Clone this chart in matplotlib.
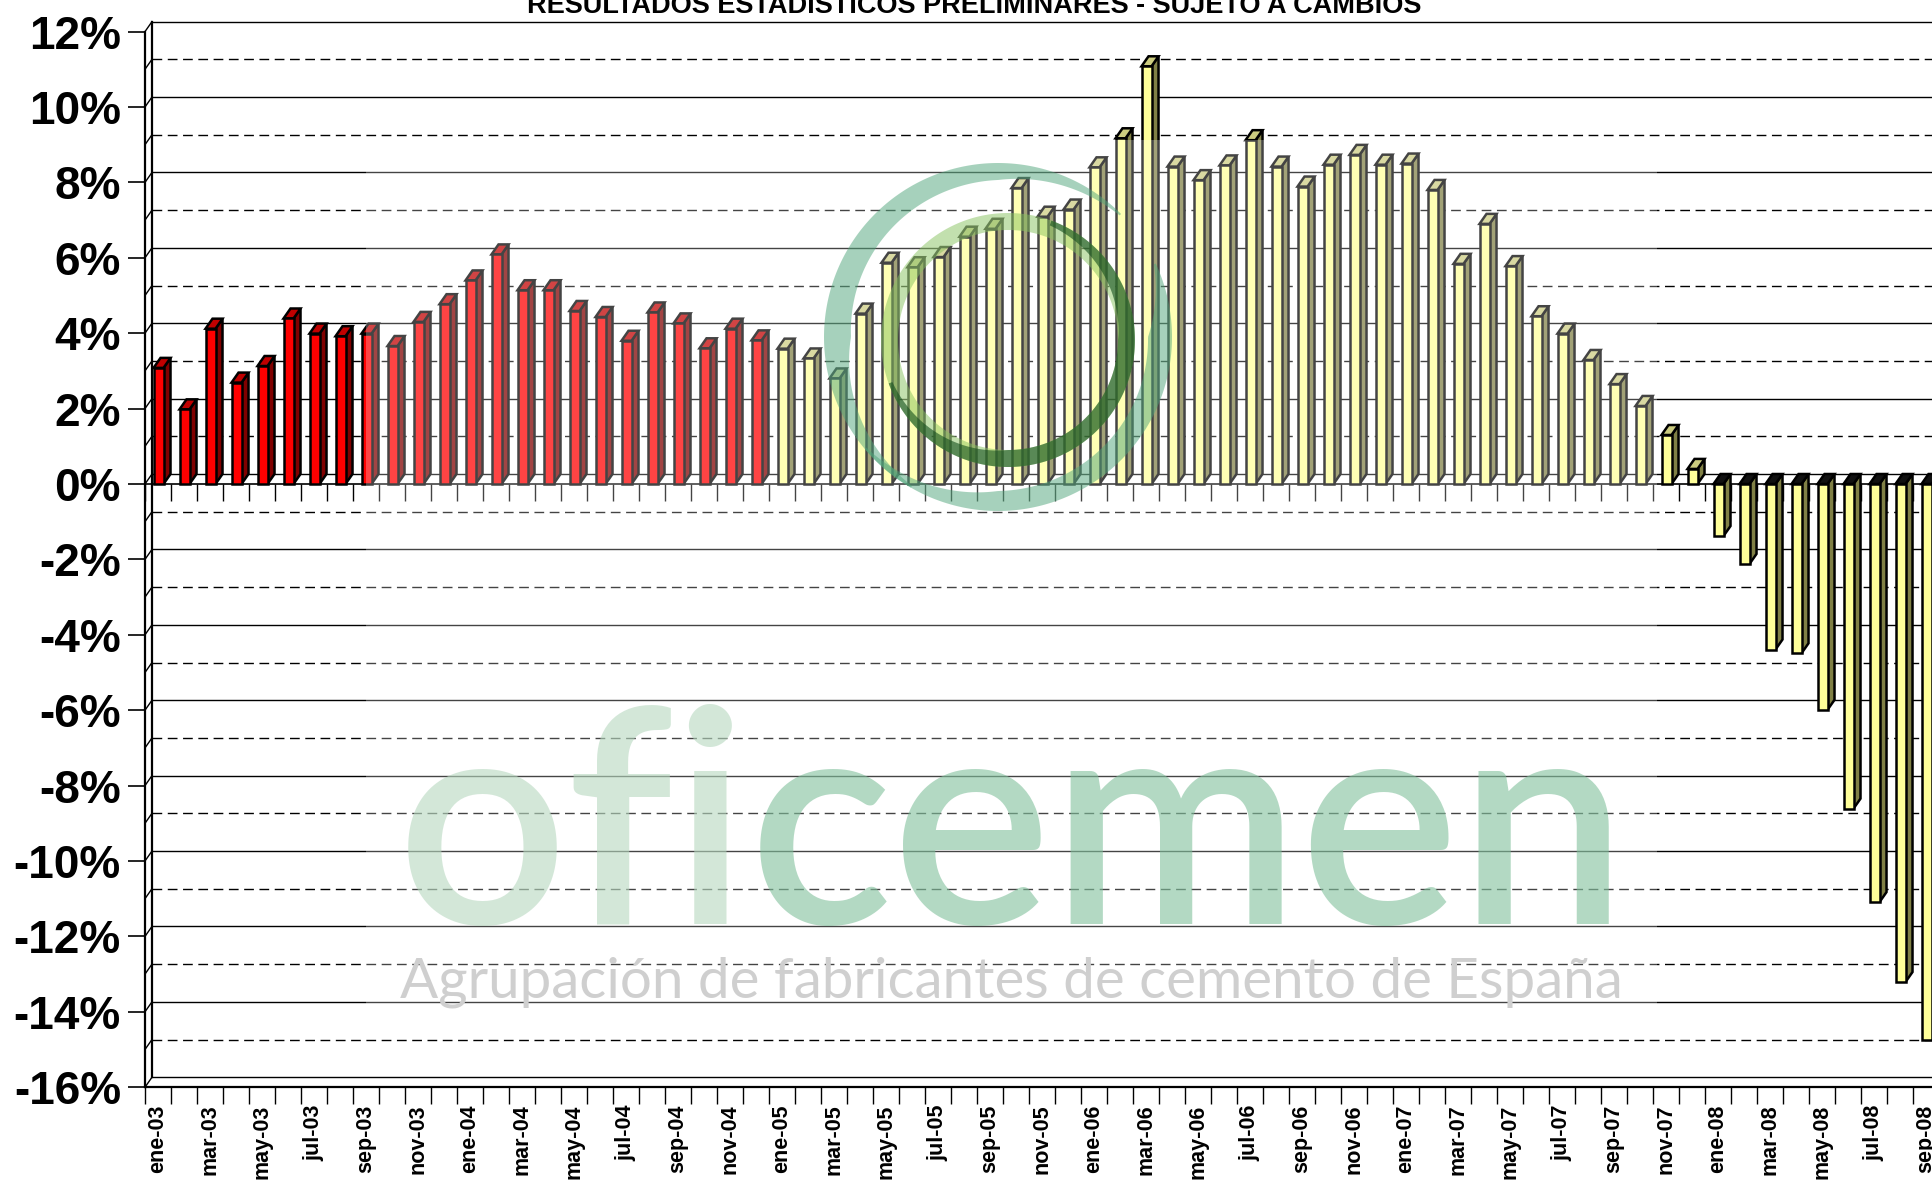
import numpy as np
import matplotlib
matplotlib.use('Agg')
import matplotlib.pyplot as plt
from matplotlib.patches import Polygon, Rectangle
from matplotlib.ticker import FixedLocator

plt.rcParams['font.family'] = ['Liberation Sans', 'DejaVu Sans']

# --- data (year-on-year change, %) ---
months = ['ene', 'feb', 'mar', 'abr', 'may', 'jun', 'jul', 'ago', 'sep', 'oct', 'nov', 'dic']
years = ['03', '04', '05', '06', '07', '08']
growth_2003 = [3.08, 1.98, 4.12, 2.69, 3.13, 4.39, 3.99, 3.92, 3.99, 3.66, 4.30, 4.77]
growth_2004 = [5.40, 6.09, 5.14, 5.14, 4.59, 4.43, 3.80, 4.55, 4.26, 3.60, 4.12, 3.81]
growth_2005 = [3.59, 3.33, 2.80, 4.52, 5.87, 5.75, 6.02, 6.56, 6.77, 7.85, 7.09, 7.28]
growth_2006 = [8.40, 9.17, 11.08, 8.42, 8.06, 8.45, 9.12, 8.42, 7.89, 8.47, 8.73, 8.47]
growth_2007 = [8.50, 7.80, 5.84, 6.90, 5.78, 4.45, 3.99, 3.29, 2.65, 2.07, 1.30, 0.40]
growth_2008 = [-1.38, -2.12, -4.39, -4.49, -5.99, -8.61, -11.09, -13.21, -14.76]

series = [growth_2003, growth_2004, growth_2005, growth_2006, growth_2007, growth_2008]
values = [v for s in series for v in s]
labels = [m + '-' + y for y, s in zip(years, series) for m in months[:len(s)]]
y_ticks = list(range(-16, 13, 2))
y_labels = ['%d%%' % v for v in y_ticks]
title = 'RESULTADOS ESTADÍSTICOS PRELIMINARES - SUJETO A CAMBIOS'

# --- geometry of the pseudo 3d box (pixels) ---
W, H = 1932, 1181
X0, SLOT = 145, 26.0          # front value axis, width of one month
Y0, UNIT = 484, 37.7          # 0% line, pixels per 1%
ddx, ddy = 7 / SLOT, 10 / UNIT  # depth offset in data units
xmax = -0.5 + (W - X0) / SLOT

fig = plt.figure(figsize=(W / 100, H / 100), dpi=100)
renderer = fig.canvas.get_renderer()
ax = fig.add_axes([X0 / W, (H - (Y0 + 16 * UNIT)) / H, (W - X0) / W, 28 * UNIT / H])
ax.set_xlim(-0.5, xmax)
ax.set_ylim(-16, 12)
for sp in ax.spines.values():
    sp.set_visible(False)
ax.patch.set_alpha(0)

# back wall grid + side wall
for v in range(-16, 13):
    ls = '-' if v % 2 == 0 else (0, (7, 4))
    ax.plot([-0.5 + ddx, xmax], [v + ddy] * 2, color='black', lw=1.0, ls=ls,
            zorder=1, clip_on=False)
    ax.plot([-0.5, -0.5 + ddx], [v, v + ddy], color='black', lw=1.0, zorder=1, clip_on=False)
ax.plot([-0.5, -0.5], [-16, 12], color='black', lw=1.6, zorder=4, clip_on=False)
ax.plot([-0.5 + ddx] * 2, [-16 + ddy, 12 + ddy], color='black', lw=1.6, zorder=1, clip_on=False)
ax.plot([-0.5, xmax], [-16, -16], color='black', lw=1.6, zorder=4, clip_on=False)
ax.plot([-0.5, xmax], [0, 0], color='black', lw=1.2, zorder=2, clip_on=False)

bounds = np.arange(len(values) + 1) - 0.5
ax.vlines(bounds, -17 / UNIT, 0, color='black', lw=1.0, zorder=2)

# bars
x = np.arange(len(values)) + 0.02
bw = 10 / SLOT
red = [i < 24 for i in range(len(values))]
front = ['#FF0000' if r else '#FFFF99' for r in red]
side = ['#800000' if r else '#808045' for r in red]
top = ['#C00000' if r else '#CCCC80' for r in red]
ax.bar(x, values, width=bw, color=front, edgecolor='black', lw=1.8, zorder=3)
for xi, v, sc, tc in zip(x, values, side, top):
    xl, xr = xi - bw / 2, xi + bw / 2
    ax.add_patch(Polygon([(xr, 0), (xr + ddx, ddy), (xr + ddx, v + ddy), (xr, v)],
                         fc=sc, ec='black', lw=1.8, zorder=2.8))
    if v >= 0:
        cap = [(xl, v), (xr, v), (xr + ddx, v + ddy), (xl + ddx, v + ddy)]
    else:
        cap = [(xl, 0), (xr, 0), (xr + ddx, ddy), (xl + ddx, ddy)]
        tc = '#111111'
    ax.add_patch(Polygon(cap, fc=tc, ec='black', lw=1.8, zorder=2.8))

# axes ticks and labels
ax.set_yticks(y_ticks)
ax.set_yticklabels(y_labels, fontsize=33, fontweight='bold')
ax.tick_params(axis='y', length=11.9, width=1.2, pad=5.4)
ax.set_xticks(np.arange(0, len(values), 2))
ax.set_xticklabels(labels[::2], rotation=90, fontsize=15.5, fontweight='bold')
ax.xaxis.set_minor_locator(FixedLocator(bounds))
ax.tick_params(axis='x', which='major', length=0, pad=12.5)
ax.tick_params(axis='x', which='minor', length=12.2, width=1.0)

# title (cut at the top edge as in the source)
tt = fig.text(974 / W, (H - 13) / H, title, ha='center', va='baseline',
              fontsize=18, fontweight='bold')
tw = tt.get_window_extent(renderer).width
tt.set_fontsize(18 * 894 / tw)

# --- watermark layer in pixel coordinates ---
ax2 = fig.add_axes([0, 0, 1, 1], zorder=5)
ax2.set_xlim(0, W)
ax2.set_ylim(H, 0)
ax2.axis('off')
ax2.patch.set_alpha(0)


def fit_size(s, width, **kw):
    t = ax2.text(0, 0, s, fontsize=100, **kw)
    fs = 100 * width / t.get_window_extent(renderer).width
    t.remove()
    return fs


logo_font = dict(family='Lato', fontweight=600)
fs = fit_size('oficemen', 1229, **logo_font)
t1 = ax2.text(397, 924, 'ofi', fontsize=fs, color='#9CCAA8', alpha=0.6,
              ha='left', va='baseline', zorder=1, **logo_font)
w1 = t1.get_window_extent(renderer).width
ax2.text(397 + w1, 924, 'cemen', fontsize=fs, color='#52AA78', alpha=0.6,
         ha='left', va='baseline', zorder=1, **logo_font)
sub = 'Agrupación de fabricantes de cemento de España'
fs2 = fit_size(sub, 1224, family='Lato')
ax2.text(400, 997, sub, fontsize=fs2, family='Lato', color='#BEBEBE',
         ha='left', va='baseline', zorder=1)

ax2.add_patch(Rectangle((366, 140), 1657 - 366, 1030 - 140, fc='white', ec='none',
                        alpha=0.27, zorder=2))


def swirl(cx, cy, r_out, phis, widths, color, alpha):
    phi = np.linspace(phis[0], phis[-1], 240)
    w = np.interp(phi, phis, widths)
    t = np.radians(phi)
    xo, yo = cx + r_out * np.cos(t), cy - r_out * np.sin(t)
    xi, yi = cx + (r_out - w) * np.cos(t), cy - (r_out - w) * np.sin(t)
    pts = np.column_stack([np.r_[xo, xi[::-1]], np.r_[yo, yi[::-1]]])
    ax2.add_patch(Polygon(pts, closed=True, fc=color, ec='none', alpha=alpha, zorder=3))


swirl(998, 337, 174, [45, 90, 180, 240], [2, 17, 27, 2], '#4FA57A', 0.5)
swirl(998, 337, 174, [-140, -90, 0, 25], [2, 20, 24, 2], '#4FA57A', 0.5)
swirl(1008, 340, 127, [-180, 180], [17, 17], '#86C25E', 0.5)
swirl(1008, 340, 127, [-160, -90, 0, 70], [4, 17, 17, 5], '#144F1C', 0.6)

fig.savefig('out.png', dpi=100)
